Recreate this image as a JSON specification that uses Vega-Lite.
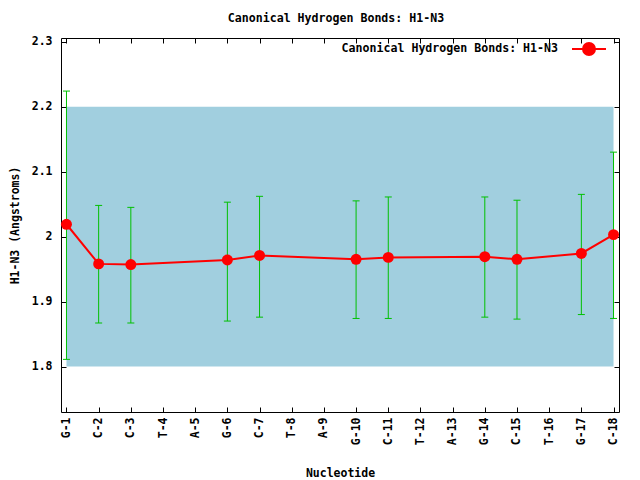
{
  "$schema": "https://vega.github.io/schema/vega-lite/v6.json",
  "width": 558,
  "height": 374,
  "autosize": {"type": "none"},
  "padding": {"left": 61, "top": 38, "right": 21, "bottom": 68},
  "background": "#ffffff",
  "title": {"text": "Canonical Hydrogen Bonds: H1-N3", "font": "DejaVu Sans Mono", "fontSize": 11.6, "fontWeight": "bold", "color": "#000000", "offset": 11, "dx": -4},
  "config": {
    "view": {"stroke": "#000000", "strokeWidth": 1},
    "axis": {"domain": false, "grid": false, "labelFont": "DejaVu Sans Mono", "labelFontSize": 11.5, "labelFontWeight": "bold", "labelColor": "#000000", "titleFont": "DejaVu Sans Mono", "titleFontSize": 11.5, "titleFontWeight": "bold", "titleColor": "#000000", "tickColor": "#000000", "tickSize": -5, "tickWidth": 1},
    "legend": {"labelFont": "DejaVu Sans Mono", "labelFontSize": 11.6, "labelFontWeight": "bold", "labelColor": "#000000", "labelLimit": 0}
  },
  "datasets": {
    "band": [{"a": "G-1", "b": "C-18", "lo": 1.8, "hi": 2.2}],
    "pts": [
      {"n": "G-1", "y": 2.019, "lo": 1.811, "hi": 2.224},
      {"n": "C-2", "y": 1.958, "lo": 1.867, "hi": 2.048},
      {"n": "C-3", "y": 1.957, "lo": 1.867, "hi": 2.045},
      {"n": "G-6", "y": 1.964, "lo": 1.870, "hi": 2.053},
      {"n": "C-7", "y": 1.971, "lo": 1.876, "hi": 2.062},
      {"n": "G-10", "y": 1.965, "lo": 1.874, "hi": 2.055},
      {"n": "C-11", "y": 1.968, "lo": 1.874, "hi": 2.061},
      {"n": "G-14", "y": 1.969, "lo": 1.876, "hi": 2.061},
      {"n": "C-15", "y": 1.965, "lo": 1.873, "hi": 2.056},
      {"n": "G-17", "y": 1.974, "lo": 1.880, "hi": 2.065},
      {"n": "C-18", "y": 2.003, "lo": 1.874, "hi": 2.130}
    ]
  },
  "layer": [
    {
      "data": {"name": "band"},
      "mark": {"type": "rect", "color": "#a1cfdf"},
      "encoding": {
        "x": {"field": "a", "type": "ordinal",
          "scale": {"type": "point", "padding": 0.17, "domain": ["G-1","C-2","C-3","T-4","A-5","G-6","C-7","T-8","A-9","G-10","C-11","T-12","A-13","G-14","C-15","T-16","G-17","C-18"]},
          "axis": {"orient": "bottom", "title": "Nucleotide", "labelAngle": 270, "labelPadding": 10, "titlePadding": 23}},
        "x2": {"field": "b"},
        "y": {"field": "lo", "type": "quantitative",
          "scale": {"domain": [1.73, 2.3057], "nice": false, "zero": false},
          "axis": {"orient": "left", "title": "H1-N3 (Angstroms)", "values": [1.8, 1.9, 2.0, 2.1, 2.2, 2.3], "format": "~g", "labelPadding": 14, "titlePadding": 11}},
        "y2": {"field": "hi"}
      }
    },
    {
      "data": {"name": "pts"},
      "mark": {"type": "rule", "color": "#00c000", "strokeWidth": 1},
      "encoding": {
        "x": {"field": "n", "type": "ordinal", "axis": null},
        "y": {"field": "lo", "type": "quantitative", "axis": null},
        "y2": {"field": "hi"}
      }
    },
    {
      "data": {"name": "pts"},
      "mark": {"type": "tick", "color": "#00c000", "size": 7, "thickness": 1, "orient": "horizontal", "opacity": 1},
      "encoding": {
        "x": {"field": "n", "type": "ordinal", "axis": null},
        "y": {"field": "lo", "type": "quantitative", "axis": null}
      }
    },
    {
      "data": {"name": "pts"},
      "mark": {"type": "tick", "color": "#00c000", "size": 7, "thickness": 1, "orient": "horizontal", "opacity": 1},
      "encoding": {
        "x": {"field": "n", "type": "ordinal", "axis": null},
        "y": {"field": "hi", "type": "quantitative", "axis": null}
      }
    },
    {
      "data": {"name": "pts"},
      "mark": {"type": "line", "color": "#ff0000", "strokeWidth": 2},
      "encoding": {
        "x": {"field": "n", "type": "ordinal", "axis": {"orient": "top", "labels": false, "title": null}},
        "y": {"field": "y", "type": "quantitative", "axis": {"orient": "right", "labels": false, "title": null, "values": [1.8, 1.9, 2.0, 2.1, 2.2, 2.3]}},
        "order": {"value": null}
      }
    },
    {
      "data": {"name": "pts"},
      "mark": {"type": "point", "filled": true, "size": 120, "opacity": 1},
      "encoding": {
        "x": {"field": "n", "type": "ordinal", "axis": null},
        "y": {"field": "y", "type": "quantitative", "axis": null},
        "color": {"datum": "Canonical Hydrogen Bonds: H1-N3", "type": "nominal",
          "scale": {"range": ["#ff0000"]},
          "legend": {"title": null, "orient": "none", "legendX": 521, "legendY": 4, "padding": 0,
            "symbolType": "M-2.83,0H2.83M1,0A1,1 0 1,1 -1,0A1,1 0 1,1 1,0Z",
            "symbolSize": 144, "symbolFillColor": "#ff0000", "symbolStrokeColor": "#ff0000", "symbolStrokeWidth": 2, "symbolOpacity": 1,
            "labelAlign": "right", "labelOffset": -38, "labelLimit": 0}}
      }
    }
  ],
  "resolve": {"axis": {"x": "independent", "y": "independent"}}
}
